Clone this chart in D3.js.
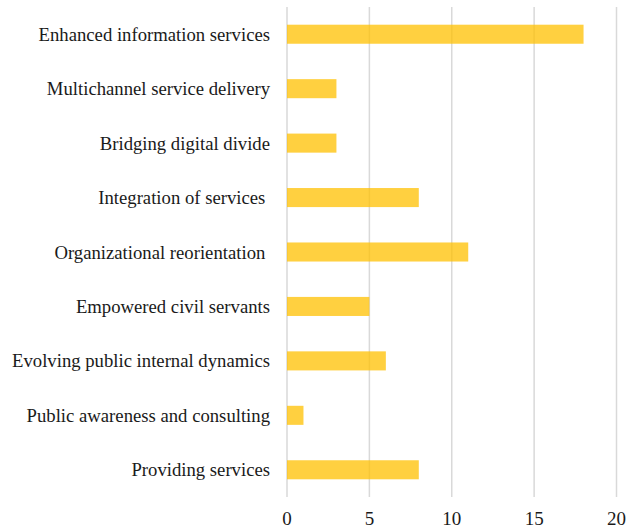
<!DOCTYPE html>
<html>
<head>
<meta charset="utf-8">
<script src="https://cdn.jsdelivr.net/npm/d3@7"></script>
<style>
  body { margin: 0; background: #fff; }
</style>
</head>
<body>
<div id="chart"></div>
<script>
const categories = [
  "Enhanced information services",
  "Multichannel service delivery",
  "Bridging digital divide",
  "Integration of services ",
  "Organizational reorientation ",
  "Empowered civil servants",
  "Evolving public internal dynamics",
  "Public awareness and consulting",
  "Providing services"
];
const values = [18, 3, 3, 8, 11, 5, 6, 1, 8];
const tickValues = [0, 5, 10, 15, 20];

const width = 634;
const height = 529;
const margin = {top: 7, right: 17.5, bottom: 32, left: 287};
const fontFamily = "'Liberation Serif', 'DejaVu Serif', serif";

const svg = d3.select('#chart')
  .append('svg')
  .attr('width', width)
  .attr('height', height);

const x = d3.scaleLinear()
  .domain([0, 20])
  .range([margin.left, width - margin.right]);

const y = d3.scaleBand()
  .domain(categories)
  .range([margin.top, height - margin.bottom])
  .paddingInner(0.65)
  .paddingOuter(0.325);

// gridlines
svg.append('g')
  .selectAll('line')
  .data(tickValues)
  .enter().append('line')
  .attr('x1', d => x(d))
  .attr('x2', d => x(d))
  .attr('y1', margin.top)
  .attr('y2', height - margin.bottom)
  .attr('stroke', '#d9d9d9')
  .attr('stroke-width', 1.5);

// bars
svg.append('g')
  .selectAll('rect')
  .data(values)
  .enter().append('rect')
  .attr('x', x(0))
  .attr('y', (d, i) => y(categories[i]))
  .attr('width', d => x(d) - x(0))
  .attr('height', y.bandwidth())
  .attr('fill', '#ffc000')
  .attr('fill-opacity', 0.75);

// category labels (trailing spaces kept, as in the original)
svg.append('g')
  .selectAll('text')
  .data(categories)
  .enter().append('text')
  .attr('x', 270)
  .attr('y', d => y(d) + y.bandwidth() / 2)
  .attr('dy', '0.35em')
  .attr('text-anchor', 'end')
  .attr('font-family', fontFamily)
  .attr('font-size', 18.7)
  .attr('fill', '#1a1a1a')
  .style('white-space', 'pre')
  .text(d => d);

// x tick labels
svg.append('g')
  .selectAll('text')
  .data(tickValues)
  .enter().append('text')
  .attr('x', d => x(d))
  .attr('y', 518)
  .attr('dy', '0.35em')
  .attr('text-anchor', 'middle')
  .attr('font-family', fontFamily)
  .attr('font-size', 19)
  .attr('fill', '#1a1a1a')
  .text(d => d);
</script>
</body>
</html>
